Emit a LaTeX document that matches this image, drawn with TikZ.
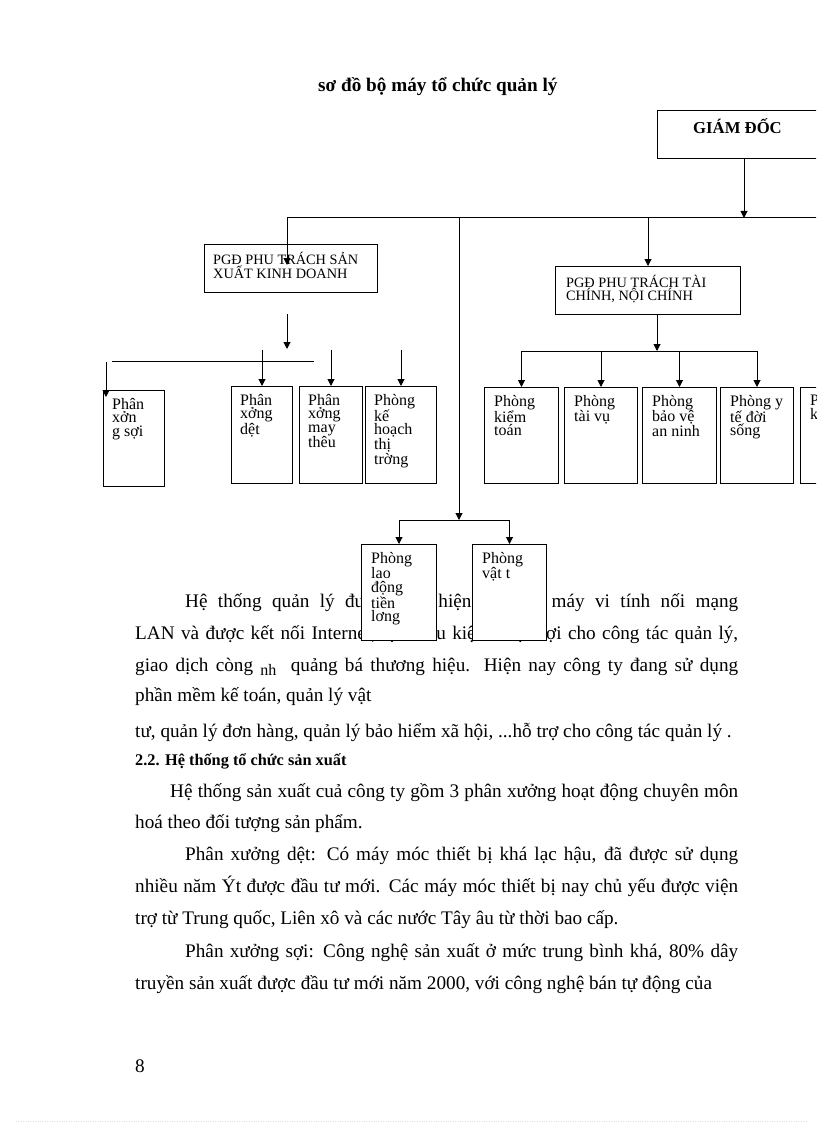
\documentclass[tikz,border=0pt]{standalone}
\usepackage{fontspec}
\setmainfont{Liberation Serif}
\usetikzlibrary{arrows.meta, positioning, calc}

\newcommand{\jline}[2]{\hbox to #1{#2}}

\tikzset{
  arr/.style={-{Triangle[width=7pt,length=7pt]}, line width=1pt},
  bar/.style={line width=1pt},
  unitbox/.style={draw, line width=1pt, fill=white, anchor=north west, inner sep=0pt},
  unitlabel/.style={anchor=north west, inner sep=0pt, align=left, xshift=9pt, yshift=-8pt,
    font=\fontsize{16}{13.4}\selectfont},
  headlabel/.style={anchor=north west, inner sep=0pt, align=left,
    font=\fontsize{14.3}{12}\selectfont},
  bodyline/.style={anchor=base west, inner sep=0pt, font=\fontsize{19.2}{22}\selectfont},
}

\begin{document}
\begin{tikzpicture}[x=1pt, y=-1pt]
  \useasboundingbox (0,0) rectangle (816,1123);
  \clip (0,0) rectangle (816,1123);

  % Title
  \node[anchor=base west, inner sep=0pt, font=\fontsize{19.2}{22}\selectfont\bfseries] (title) at (318,92) {sơ đồ bộ máy tổ chức quản lý};

  % Body text (under the boxes)
  \node[bodyline] (l1) at (185,607.5) {\jline{553pt}{Hệ thống quản lý được thực hiện trên 20 máy vi tính nối mạng}};
  \node[bodyline] (l2) at (135,639.5) {\jline{603pt}{LAN và được kết nối Internet, tạo điều kiện thuận lợi cho công tác quản lý,}};
  \node[bodyline] (l3) at (135,671.5) {\jline{603pt}{giao dịch còng \raisebox{-4pt}{\fontsize{16}{16}\selectfont nh}\ \ quảng bá thương hiệu. Hiện nay công ty đang sử dụng}};
  \node[bodyline] (l4) at (135,701.5) {phần mềm kế toán, quản lý vật};
  \node[bodyline] (l5) at (135,737.5) {tư, quản lý đơn hàng, quản lý bảo hiểm xã hội, ...hỗ trợ cho công tác quản lý .};
  \node[anchor=base west, inner sep=0pt, font=\fontsize{16.3}{18}\selectfont\bfseries] (sec) at (135,765) {2.2. Hệ thống tổ chức sản xuất};
  \node[bodyline] (l7) at (170,797) {\jline{568pt}{Hệ thống sản xuất cuả công ty gồm 3 phân xưởng hoạt động chuyên môn}};
  \node[bodyline] (l8) at (135,828.5) {hoá theo đối tượng sản phẩm.};
  \node[bodyline] (l9) at (185,860.5) {\jline{553pt}{Phân xưởng dệt: Có máy móc thiết bị khá lạc hậu, đã được sử dụng}};
  \node[bodyline] (l10) at (135,892.5) {\jline{603pt}{nhiều năm Ýt được đầu tư mới. Các máy móc thiết bị nay chủ yếu được viện}};
  \node[bodyline] (l11) at (135,924.5) {trợ từ Trung quốc, Liên xô và các nước Tây âu từ thời bao cấp.};
  \node[bodyline] (l12) at (185,957.5) {\jline{553pt}{Phân xưởng sợi: Công nghệ sản xuất ở mức trung bình khá, 80\% dây}};
  \node[bodyline] (l13) at (135,989.5) {truyền sản xuất được đầu tư mới năm 2000, với công nghệ bán tự động của};
  \node[bodyline] (pnum) at (135,1072) {8};

  % Boxes
  \node[unitbox, minimum width=161, minimum height=48,
    label={[headlabel, xshift=36pt, yshift=-8pt, font=\fontsize{16.7}{16}\selectfont\bfseries]north west:GIÁM ĐỐC}] (gd) at (657,110) {};
  \node[unitbox, minimum width=173, minimum height=48,
    label={[headlabel, xshift=9pt, yshift=-8pt]north west:{PGĐ PHU TRÁCH SẢN\\XUẤT KINH DOANH}}] (pgdsx) at (204,244) {};
  \node[unitbox, minimum width=185, minimum height=48,
    label={[headlabel, xshift=11pt, yshift=-9pt]north west:{PGĐ PHU TRÁCH TÀI\\CHÍNH, NỘI CHÍNH}}] (pgdtc) at (555,266) {};

  \node[unitbox, minimum width=61, minimum height=96, label={[unitlabel]north west:{Phân\\xởn\\g sợi}}] (pxsoi) at (103,390) {};
  \node[unitbox, minimum width=61, minimum height=97, label={[unitlabel]north west:{Phân\\xởng\\dệt}}] (pxdet) at (231,386) {};
  \node[unitbox, minimum width=63, minimum height=97, label={[unitlabel]north west:{Phân\\xởng\\may\\thêu}}] (pxmay) at (299,386) {};
  \node[unitbox, minimum width=71, minimum height=97, label={[unitlabel]north west:{Phòng\\kế\\hoạch\\thị\\trờng}}] (pkhtt) at (365,386) {};

  \node[unitbox, minimum width=74, minimum height=96, label={[unitlabel, xshift=1pt]north west:{Phòng\\kiểm\\toán}}] (pkt) at (484,387) {};
  \node[unitbox, minimum width=73, minimum height=96, label={[unitlabel, xshift=1pt]north west:{Phòng\\tài vụ}}] (ptv) at (564,387) {};
  \node[unitbox, minimum width=74, minimum height=96, label={[unitlabel, xshift=1pt]north west:{Phòng\\bảo vệ\\an ninh}}] (pbv) at (642,387) {};
  \node[unitbox, minimum width=73, minimum height=96, label={[unitlabel, xshift=1pt]north west:{Phòng y\\tế đời\\sống}}] (pyte) at (720,387) {};
  \node[unitbox, minimum width=74, minimum height=96, label={[unitlabel, xshift=1pt]north west:{P\\k}}] (pk) at (800,387) {};

  \node[unitbox, minimum width=75, minimum height=96, label={[unitlabel, xshift=1pt]north west:{Phòng\\lao\\động\\tiền\\lơng}}] (pld) at (361,544) {};
  \node[unitbox, minimum width=74, minimum height=96, label={[unitlabel, xshift=1pt]north west:{Phòng\\vật t}}] (pvt) at (472,544) {};

  % Main bus
  \coordinate (gdbus) at (744,218);
  \coordinate (sxjoin) at (287,218);
  \coordinate (ldjoin) at (459,218);
  \coordinate (busend) at (820,218);
  \draw[bar] (sxjoin) -- (busend);
  \draw[arr] (gd.south -| gdbus) -- (gdbus);
  \draw[arr] (sxjoin) -- ($(sxjoin |- pgdsx.north)+(0,21)$);
  \draw[arr] (pgdtc.north |- sxjoin) -- (pgdtc.north);

  % Production branch
  \coordinate (sxa) at (287,314);
  \coordinate (sxb) at (287,349);
  \coordinate (sxbusL) at (112,361);
  \coordinate (sxbusR) at (314,361);
  \coordinate (sxtop) at (0,350);
  \draw[arr] (sxa) -- (sxb);
  \draw[bar] (sxbusL) -- (sxbusR);
  \draw[arr] (106,362) -- (106,397);
  \foreach \n in {pxdet, pxmay, pkhtt}
    \draw[arr] (\n.north |- sxtop) -- (\n.north);

  % Finance branch
  \coordinate (tcbus) at (657,351);
  \draw[arr] (pgdtc.south -| tcbus) -- (tcbus);
  \draw[bar] (pkt.north |- tcbus) -- (pyte.north |- tcbus);
  \foreach \n in {pkt, ptv, pbv, pyte}
    \draw[arr] (\n.north |- tcbus) -- (\n.north);

  % Labour / supplies branch
  \coordinate (ldbus) at (459,520);
  \draw[arr] (ldjoin) -- (ldbus);
  \draw[bar] (ldbus -| pld.north) -- (ldbus -| pvt.north);
  \draw[arr] (ldbus -| pld.north) -- (pld.north);
  \draw[arr] (ldbus -| pvt.north) -- (pvt.north);

  \draw[gray!25, dotted] (16,1121) -- (806,1121);
\end{tikzpicture}
\end{document}
